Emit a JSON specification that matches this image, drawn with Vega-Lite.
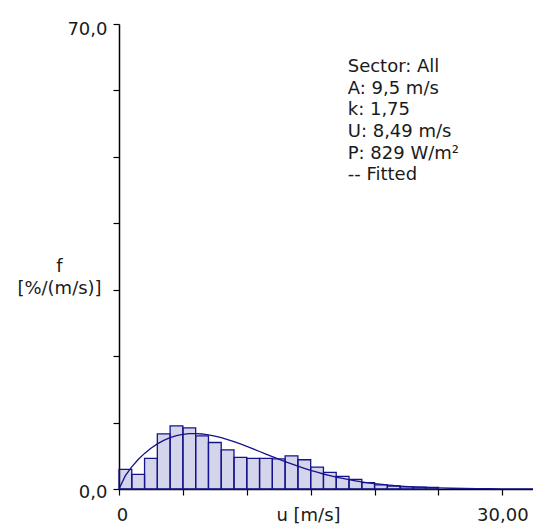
{
  "$schema": "https://vega.github.io/schema/vega-lite/v6.json",
  "autosize": {"type": "none"},
  "width": 414,
  "height": 465,
  "padding": {"left": 119, "top": 24, "right": 0, "bottom": 39},
  "background": "white",
  "config": {
    "view": {"stroke": null},
    "font": "DejaVu Sans",
    "axis": {
      "grid": false,
      "domainColor": "#000000",
      "domainWidth": 1.5,
      "tickColor": "#000000",
      "tickWidth": 1.2,
      "tickSize": 6,
      "labelFontSize": 18,
      "titleFontSize": 18,
      "titleFontWeight": "normal",
      "labelColor": "#1a1a1a",
      "titleColor": "#1a1a1a",
      "labelOverlap": false,
      "labelFlush": false
    }
  },
  "datasets": {
    "bars": [
      {"u0": 0, "u1": 1, "f": 2.95},
      {"u0": 1, "u1": 2, "f": 2.2},
      {"u0": 2, "u1": 3, "f": 4.6},
      {"u0": 3, "u1": 4, "f": 8.3},
      {"u0": 4, "u1": 5, "f": 9.5},
      {"u0": 5, "u1": 6, "f": 9.2},
      {"u0": 6, "u1": 7, "f": 8.0},
      {"u0": 7, "u1": 8, "f": 7.0},
      {"u0": 8, "u1": 9, "f": 5.9},
      {"u0": 9, "u1": 10, "f": 4.75},
      {"u0": 10, "u1": 11, "f": 4.6},
      {"u0": 11, "u1": 12, "f": 4.6},
      {"u0": 12, "u1": 13, "f": 4.55},
      {"u0": 13, "u1": 14, "f": 5.0},
      {"u0": 14, "u1": 15, "f": 4.4},
      {"u0": 15, "u1": 16, "f": 3.3},
      {"u0": 16, "u1": 17, "f": 2.5},
      {"u0": 17, "u1": 18, "f": 1.9},
      {"u0": 18, "u1": 19, "f": 1.45},
      {"u0": 19, "u1": 20, "f": 0.95},
      {"u0": 20, "u1": 21, "f": 0.62},
      {"u0": 21, "u1": 22, "f": 0.45},
      {"u0": 22, "u1": 23, "f": 0.32},
      {"u0": 23, "u1": 24, "f": 0.27},
      {"u0": 24, "u1": 25, "f": 0.24}
    ],
    "fit": [
      {"u": 0, "f": 0},
      {"u": 0.5, "f": 2.013},
      {"u": 1, "f": 3.339},
      {"u": 1.5, "f": 4.436},
      {"u": 2, "f": 5.363},
      {"u": 2.5, "f": 6.144},
      {"u": 3, "f": 6.793},
      {"u": 3.5, "f": 7.319},
      {"u": 4, "f": 7.727},
      {"u": 4.5, "f": 8.026},
      {"u": 5, "f": 8.222},
      {"u": 5.5, "f": 8.326},
      {"u": 6, "f": 8.344},
      {"u": 6.5, "f": 8.283},
      {"u": 7, "f": 8.153},
      {"u": 7.5, "f": 7.964},
      {"u": 8, "f": 7.724},
      {"u": 8.5, "f": 7.441},
      {"u": 9, "f": 7.122},
      {"u": 9.5, "f": 6.777},
      {"u": 10, "f": 6.411},
      {"u": 10.5, "f": 6.033},
      {"u": 11, "f": 5.646},
      {"u": 11.5, "f": 5.258},
      {"u": 12, "f": 4.873},
      {"u": 12.5, "f": 4.494},
      {"u": 13, "f": 4.126},
      {"u": 13.5, "f": 3.772},
      {"u": 14, "f": 3.433},
      {"u": 14.5, "f": 3.11},
      {"u": 15, "f": 2.807},
      {"u": 15.5, "f": 2.522},
      {"u": 16, "f": 2.258},
      {"u": 16.5, "f": 2.014},
      {"u": 17, "f": 1.789},
      {"u": 17.5, "f": 1.583},
      {"u": 18, "f": 1.395},
      {"u": 18.5, "f": 1.225},
      {"u": 19, "f": 1.072},
      {"u": 19.5, "f": 0.935},
      {"u": 20, "f": 0.812},
      {"u": 21, "f": 0.607},
      {"u": 22, "f": 0.447},
      {"u": 23, "f": 0.325},
      {"u": 24, "f": 0.234},
      {"u": 25, "f": 0.166},
      {"u": 26, "f": 0.116},
      {"u": 27, "f": 0.08},
      {"u": 28, "f": 0.054},
      {"u": 29, "f": 0.036},
      {"u": 30, "f": 0.023},
      {"u": 31, "f": 0.015},
      {"u": 32, "f": 0.01},
      {"u": 32.4, "f": 0.008}
    ],
    "note": [
      {"text": "Sector: All\nA: 9,5 m/s\nk: 1,75\nU: 8,49 m/s\nP: 829 W/m²\n-- Fitted"}
    ]
  },
  "layer": [
    {
      "data": {"name": "bars"},
      "mark": {"type": "rect", "fill": "#000080", "fillOpacity": 0.17, "stroke": "#14148c", "strokeWidth": 1.3},
      "encoding": {
        "x": {
          "field": "u0",
          "type": "quantitative",
          "scale": {"domain": [0, 32.4], "nice": false, "zero": false},
          "axis": {
            "values": [0, 5, 10, 15, 20, 25, 30],
            "labelExpr": "datum.value == 0 ? '0' : datum.value == 30 ? '30,00' : ''",
            "labelBaseline": "alphabetic",
            "labelPadding": 25,
            "labelOffset": {"condition": {"test": "datum.value == 0", "value": 3}, "value": 0},
            "title": "u [m/s]",
            "titleX": 189,
            "titleY": 31.5,
            "titleAlign": "center",
            "titleBaseline": "alphabetic"
          }
        },
        "x2": {"field": "u1"},
        "y": {
          "field": "f",
          "type": "quantitative",
          "scale": {"domain": [0, 70], "nice": false},
          "axis": {
            "values": [0, 10, 20, 30, 40, 50, 60, 70],
            "labelExpr": "datum.value == 0 ? '0,0' : datum.value == 70 ? '70,0' : ''",
            "labelBaseline": "middle",
            "labelOffset": {"condition": {"test": "datum.value == 70", "value": 5}, "value": 3},
            "labelPadding": 6,
            "title": ["f", "[%/(m/s)]"],
            "titleAngle": 0,
            "titleAlign": "center",
            "titleBaseline": "alphabetic",
            "titleX": -60,
            "titleY": 247.5,
            "titleLineHeight": 21.7
          }
        },
        "y2": {"datum": 0}
      }
    },
    {
      "data": {"name": "fit"},
      "mark": {"type": "line", "stroke": "#14148c", "strokeWidth": 1.3},
      "encoding": {
        "x": {"field": "u", "type": "quantitative"},
        "y": {"field": "f", "type": "quantitative"}
      }
    },
    {
      "data": {"name": "note"},
      "mark": {"type": "text", "align": "left", "baseline": "alphabetic", "fontSize": 18, "lineHeight": 21.7, "lineBreak": "\n", "color": "#1a1a1a"},
      "encoding": {
        "x": {"datum": 17.9, "type": "quantitative"},
        "y": {"datum": 62.8, "type": "quantitative"},
        "text": {"field": "text"}
      }
    }
  ]
}
